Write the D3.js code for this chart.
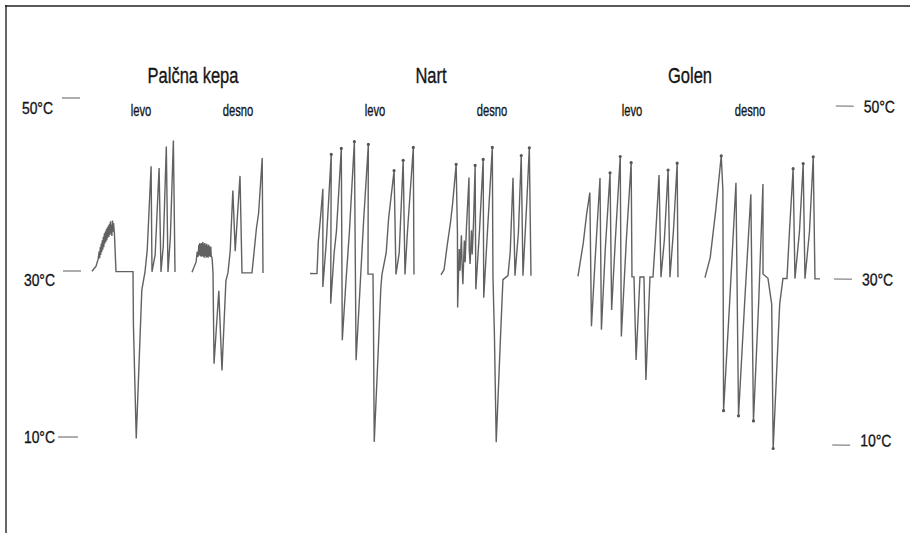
<!DOCTYPE html>
<html><head><meta charset="utf-8">
<script src="https://cdn.jsdelivr.net/npm/d3@7"></script>
<style>
body{margin:0;background:#fff;}
svg text{font-family:"Liberation Sans",Arial,sans-serif;fill:#151515;stroke:#151515;stroke-width:0.35px;}
</style></head><body>
<svg id="c" width="910" height="533"></svg>
<script>
// ---- data ----
const groups = ["Palčna kepa", "Nart", "Golen"];
const sides = ["levo", "desno"];
const tempTicks = [10, 30, 50];
const tickLabels = ["10°C", "30°C", "50°C"];

// [time, temperature °C]
const palcnaLevo = [[22,30],[26,30.6],[28,31.4],[29,32.3],[29.5,31.5],[30,32.8],[30.5,31.9],[31,33.2],[31.5,32.2],[32,33.6],[32.5,32.5],[33,34],[33.5,32.8],[34,34.4],[34.5,33.2],[35,34.6],[35.5,33.4],[36,34.9],[36.5,33.6],[37,35.1],[37.5,33.9],[38,35.3],[38.5,34],[39,35.5],[39.5,34.2],[40,35.8],[40.5,34.4],[41,35.4],[41.5,34.1],[42,35.9],[42.5,34.6],[43,35.6],[44,34.4],[46,30],[63,30],[64,23.5],[68,9.9],[72,27.8],[75,30],[77,32.5],[80,42.2],[82,30],[85,32],[88,42],[91,30],[93,33],[95,44.5],[98,30],[100,34],[102,45.2],[105,30]];
const palcnaDesno = [[122,30],[126,31.2],[127,32.4],[128,31.8],[128.5,33.2],[129,32],[129.5,33.4],[130,31.9],[130.5,33.3],[131,31.8],[131.5,33.4],[132,31.9],[132.5,33.5],[133,31.8],[133.5,33.3],[134,31.7],[134.5,33.4],[135,31.9],[135.5,33.2],[136,31.7],[136.5,33.3],[137,31.8],[137.5,33.1],[138,31.7],[138.5,33.2],[139,31.9],[139.5,33],[140,31.8],[140.5,33],[141,32],[142,31.6],[143,30],[145,19],[149,27.8],[153,18.2],[156,29],[158,30],[160,32.5],[162,39.5],[165,32.5],[169,41.2],[172,30],[182,30],[186,35.2],[188,36.9],[191,43.3],[193,30]];
const nartLevo = [[240,30],[247,30],[248,33.7],[250,36.6],[252,39.8],[253,28.4],[256,33.7],[260,43.8],[261,26.4],[264,32.5],[266,34.9],[270,44.5],[273,22],[276,29],[279,34.9],[283,45.3],[287,19.6],[290,27.8],[293,36],[297,45],[298,30],[303,30],[304,24.2],[306,9.8],[309,20.6],[311,28.4],[312,30],[316,32.5],[318,36.4],[323,42],[326,30],[329,32.5],[332,43.2],[335,30],[337,34.9],[342,44.7],[344,30]];
const nartDesno = [[371,30],[374,30.6],[377,33.5],[380,36.1],[382,38.4],[385,42.8],[387,35],[388,26.1],[389,33],[390,30.5],[391,34.6],[392,31.2],[393,28.9],[394,34],[395,31.5],[396,35.6],[398,41.3],[399,33],[400,31.3],[401,35.2],[402,32.4],[403,36.1],[404,42.7],[406,28.3],[409,35],[412,43.4],[414,27.3],[417,35],[421,44.8],[423,29.8],[425,23.1],[428,9.9],[431,21.9],[433,29.5],[438,30],[440,32.7],[442,41.3],[445,30],[448,35],[450,43.9],[453,30],[456,38.4],[458,44.8],[461,30]];
const golenLevo = [[508,30],[513,33.9],[516,37.2],[519,39.7],[522,24],[525,32],[529,41.4],[532,23.6],[535,33.1],[539,42],[542,26],[545,34.3],[549,43.9],[552,22.8],[556,34.3],[560,43.2],[562,30],[564,30],[567,20],[570,30],[574,30],[577,17.6],[580,30],[583,30],[585,34.3],[588,41.8],[591,30],[594,34.3],[597,42.4],[600,30],[603,35.4],[606,43.2],[608,30]];
const golenDesno = [[635,30],[640,32.3],[645,37.7],[650,44.1],[652,40.1],[655,14],[660,27.2],[665,41],[670,13.4],[675,27.2],[680,39.7],[685,12.8],[689,27.2],[692,40.9],[693,30.5],[698,30],[702,26.9],[705,9.5],[710,26.9],[713,30],[717,30],[719,35.4],[722,42.7],[725,30],[729,35.4],[732,43.3],[735,30],[739,35.4],[742,44.1],[745,30],[750,30]];

const series = [palcnaLevo, palcnaDesno, nartLevo, nartDesno, golenLevo, golenDesno];
const markPeaks = [false, false, true, true, true, true];
const markDips = [false, false, false, false, false, true];

// ---- layout ----
const svg = d3.select("#c");
const x = d3.scaleLinear().domain([0, 780]).range([70, 850]);
const y = d3.scaleLinear().domain([10, 30, 50]).range([437, 271, 98]);

function condensedText(parent, tx, ty, str, size, sx, anchor) {
  return parent.append("text")
    .attr("transform", `translate(${tx},${ty}) scale(${sx},1)`)
    .attr("text-anchor", anchor).attr("font-size", size).text(str);
}

// frame
svg.append("line").attr("x1", 6).attr("x2", 6).attr("y1", 5).attr("y2", 533)
  .attr("stroke", "#666").attr("stroke-width", 2);
svg.append("line").attr("x1", 5).attr("x2", 910).attr("y1", 6).attr("y2", 6)
  .attr("stroke", "#222").attr("stroke-width", 1.6);

// group titles
const titleX = [193, 431, 690];
groups.forEach((g, i) => condensedText(svg, titleX[i], 83, g, 22, 0.75, "middle"));

const sideX = [141, 238, 375, 492, 632, 750];
sideX.forEach((sx, i) => condensedText(svg, sx, 116, sides[i % 2], 17, 0.66, "middle"));

const plot = svg.append("g").attr("transform", "rotate(0.6,70,271)");

// left axis
const leftLabelDy = [6, 15, 16];
const leftTickX = [[58, 78], [63, 81], [62, 80]];
tempTicks.forEach((t, i) => {
  svg.append("line").attr("x1", leftTickX[i][0]).attr("x2", leftTickX[i][1])
    .attr("y1", y(t)).attr("y2", y(t)).attr("stroke", "#999").attr("stroke-width", 1.6);
  condensedText(svg, i === 2 ? 53 : 55, y(t) + leftLabelDy[i], tickLabels[i], 17, 0.82, "end");
});

// right axis (inside rotated group)
const rightLabelDy = [1, 6, 6];
tempTicks.forEach((t, i) => {
  plot.append("line").attr("x1", 834).attr("x2", 852)
    .attr("y1", y(t)).attr("y2", y(t)).attr("stroke", "#999").attr("stroke-width", 1.6);
  condensedText(plot, 862, y(t) + rightLabelDy[i], tickLabels[i], 17, 0.82, "start");
});

// traces
const line = d3.line().x(d => x(d[0])).y(d => y(d[1]));
series.forEach((s, k) => {
  plot.append("path").datum(s).attr("d", line)
    .attr("fill", "none").attr("stroke", "#505050").attr("stroke-width", 1.4)
    .attr("stroke-linejoin", "miter").attr("stroke-miterlimit", 3).attr("stroke-opacity", 0.9);
  const marks = s.filter((d, i) => {
    if (i === 0 || i === s.length - 1) return false;
    const isMax = d[1] > s[i - 1][1] && d[1] > s[i + 1][1];
    const isMin = d[1] < s[i - 1][1] && d[1] < s[i + 1][1];
    return (markPeaks[k] && isMax && d[1] >= 42) || (markDips[k] && isMin && d[1] <= 15);
  });
  plot.selectAll(null).data(marks).join("circle")
    .attr("cx", d => x(d[0])).attr("cy", d => y(d[1])).attr("r", 1.6)
    .attr("fill", "#555");
});
</script>
</body></html>
